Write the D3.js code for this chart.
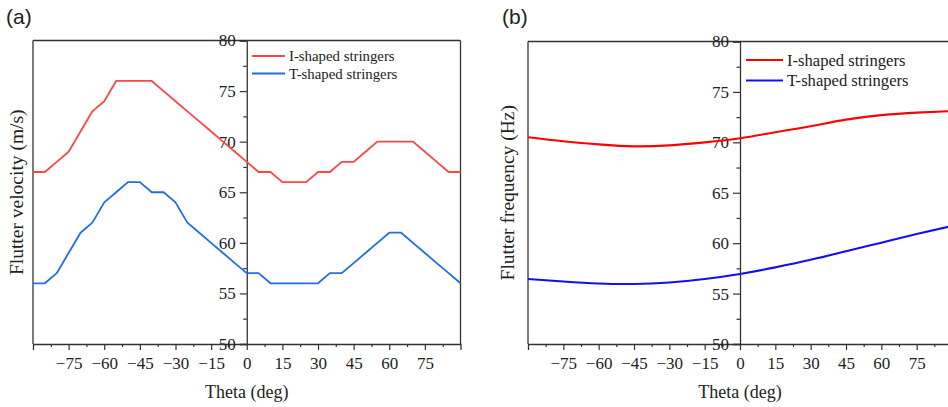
<!DOCTYPE html>
<html>
<head>
<meta charset="utf-8">
<script src="https://cdn.jsdelivr.net/npm/d3@7"></script>
<style>
  html, body { margin: 0; padding: 0; background: #fff; }
  svg { display: block; }
  text { fill: #222; }
</style>
</head>
<body>
<svg id="chart" width="948" height="407"></svg>
<script>
// ---- Data ----
const thetaA = [-90,-85,-80,-75,-70,-65,-60,-55,-50,-45,-40,-35,-30,-25,-20,-15,-10,-5,0,5,10,15,20,25,30,35,40,45,50,55,60,65,70,75,80,85,90];
const velocityI = [67,67,68,69,71,73,74,76,76,76,76,75,74,73,72,71,70,69,68,67,67,66,66,66,67,67,68,68,69,70,70,70,70,69,68,67,67];
const velocityT = [56,56,57,59,61,62,64,65,66,66,65,65,64,62,61,60,59,58,57,57,56,56,56,56,56,57,57,58,59,60,61,61,60,59,58,57,56];

const thetaB = [-90,-75,-60,-45,-30,-15,0,15,30,45,60,75,90];
const frequencyI = [70.5,70.1,69.8,69.6,69.7,70.0,70.4,71.0,71.6,72.25,72.7,72.95,73.1];
const frequencyT = [56.45,56.2,56.0,55.95,56.1,56.45,56.95,57.6,58.35,59.2,60.05,60.9,61.7];

const xTicks = [-75,-60,-45,-30,-15,0,15,30,45,60,75];
const xMinor = [-82.5,-67.5,-52.5,-37.5,-22.5,-7.5,7.5,22.5,37.5,52.5,67.5,82.5];
const yTicks = [50,55,60,65,70,75,80];
const yMinor = [52.5,57.5,62.5,67.5,72.5,77.5];
const seriesNames = ["I-shaped stringers", "T-shaped stringers"];

const svg = d3.select("#chart");
const SERIF = '"Liberation Serif", "Times New Roman", serif';
const SANS = '"Liberation Sans", Arial, sans-serif';
const fmt = d => (d < 0 ? "\u2212" + Math.abs(d) : String(d));

function panel(opts) {
  const x = d3.scaleLinear().domain([-90, 90]).range(opts.xr);
  const y = d3.scaleLinear().domain([50, 80]).range(opts.yr);
  const g = svg.append("g");
  const axisColor = "#333";

  // frame: top, left, right
  g.append("line").attr("x1", x(-90)).attr("x2", x(90)).attr("y1", y(80)).attr("y2", y(80))
    .attr("stroke", axisColor).attr("stroke-width", 1.3);
  g.append("line").attr("x1", x(-90)).attr("x2", x(-90)).attr("y1", y(80)).attr("y2", y(50))
    .attr("stroke", axisColor).attr("stroke-width", 1.3);
  g.append("line").attr("x1", x(90)).attr("x2", x(90)).attr("y1", y(80)).attr("y2", y(50))
    .attr("stroke", axisColor).attr("stroke-width", 1.3);

  // bottom axis
  const xAxis = d3.axisBottom(x).tickValues(xTicks).tickSize(6).tickPadding(7).tickFormat(fmt);
  const gx = g.append("g").attr("transform", `translate(0,${y(50)})`).call(xAxis);
  gx.select(".domain").attr("stroke", axisColor).attr("stroke-width", 1.3);
  gx.selectAll(".tick line").attr("stroke", axisColor).attr("stroke-width", 1.2);
  gx.selectAll(".tick text").style("font-family", SERIF).style("font-size", "17px").attr("fill", "#222");
  const xMinorAxis = d3.axisBottom(x).tickValues(xMinor).tickSize(3).tickFormat("");
  const gxm = g.append("g").attr("transform", `translate(0,${y(50)})`).call(xMinorAxis);
  gxm.select(".domain").remove();
  gxm.selectAll(".tick line").attr("stroke", axisColor).attr("stroke-width", 1.2);

  // vertical axis at theta = 0
  const yAxis = d3.axisLeft(y).tickValues(yTicks).tickSize(7).tickPadding(4).tickFormat(d3.format("d"));
  const gy = g.append("g").attr("transform", `translate(${x(0)},0)`).call(yAxis);
  gy.select(".domain").attr("stroke", axisColor).attr("stroke-width", 1.3);
  gy.selectAll(".tick line").attr("stroke", axisColor).attr("stroke-width", 1.2);
  gy.selectAll(".tick text").style("font-family", SERIF).style("font-size", "17px").attr("fill", "#222");
  const yMinorAxis = d3.axisLeft(y).tickValues(yMinor).tickSize(3.5).tickFormat("");
  const gym = g.append("g").attr("transform", `translate(${x(0)},0)`).call(yMinorAxis);
  gym.select(".domain").remove();
  gym.selectAll(".tick line").attr("stroke", axisColor).attr("stroke-width", 1.2);

  // lines
  const line = d3.line().x((d, i) => x(opts.theta[i])).y(d => y(d)).curve(opts.curve);
  opts.series.forEach((s, k) => {
    g.append("path").datum(s).attr("fill", "none").attr("stroke", opts.colors[k])
      .attr("stroke-width", opts.lw).attr("stroke-linejoin", "round").attr("d", line);
  });

  // legend
  seriesNames.forEach((name, k) => {
    const ly = opts.legY + k * opts.legDy;
    g.append("line").attr("x1", opts.legX).attr("x2", opts.legX + opts.legLen)
      .attr("y1", ly).attr("y2", ly).attr("stroke", opts.colors[k]).attr("stroke-width", opts.lw);
    g.append("text").attr("x", opts.legX + opts.legLen + 4).attr("y", ly + opts.legFont * 0.34)
      .style("font-family", SERIF).style("font-size", opts.legFont + "px").text(name);
  });

  // titles
  g.append("text").attr("x", x(0)).attr("y", 398).attr("text-anchor", "middle")
    .style("font-family", SERIF).style("font-size", "18px").text("Theta (deg)");
  g.append("text").attr("transform", `translate(${opts.ytX},${(y(50) + y(80)) / 2}) rotate(-90)`)
    .attr("text-anchor", "middle").style("font-family", SERIF).style("font-size", "19.5px").text(opts.ytitle);
  g.append("text").attr("x", opts.tagX).attr("y", 24)
    .style("font-family", SANS).style("font-size", "21px").text(opts.tag);
}

panel({
  xr: [33, 460.5], yr: [344, 40.5],
  theta: thetaA, series: [velocityI, velocityT],
  colors: ["#ff4545", "#1f6fe0"], lw: 1.8, curve: d3.curveLinear,
  legX: 252, legY: 56, legDy: 17.5, legLen: 33, legFont: 14.8,
  ytX: 23, ytitle: "Flutter velocity (m/s)", tagX: 6, tag: "(a)"
});

panel({
  xr: [528, 952], yr: [344, 41.5],
  theta: thetaB, series: [frequencyI, frequencyT],
  colors: ["#ff0000", "#1010f0"], lw: 2.1, curve: d3.curveNatural,
  legX: 746, legY: 60, legDy: 20.5, legLen: 37, legFont: 16.6,
  ytX: 514, ytitle: "Flutter frequency (Hz)", tagX: 502, tag: "(b)"
});
</script>
</body>
</html>
